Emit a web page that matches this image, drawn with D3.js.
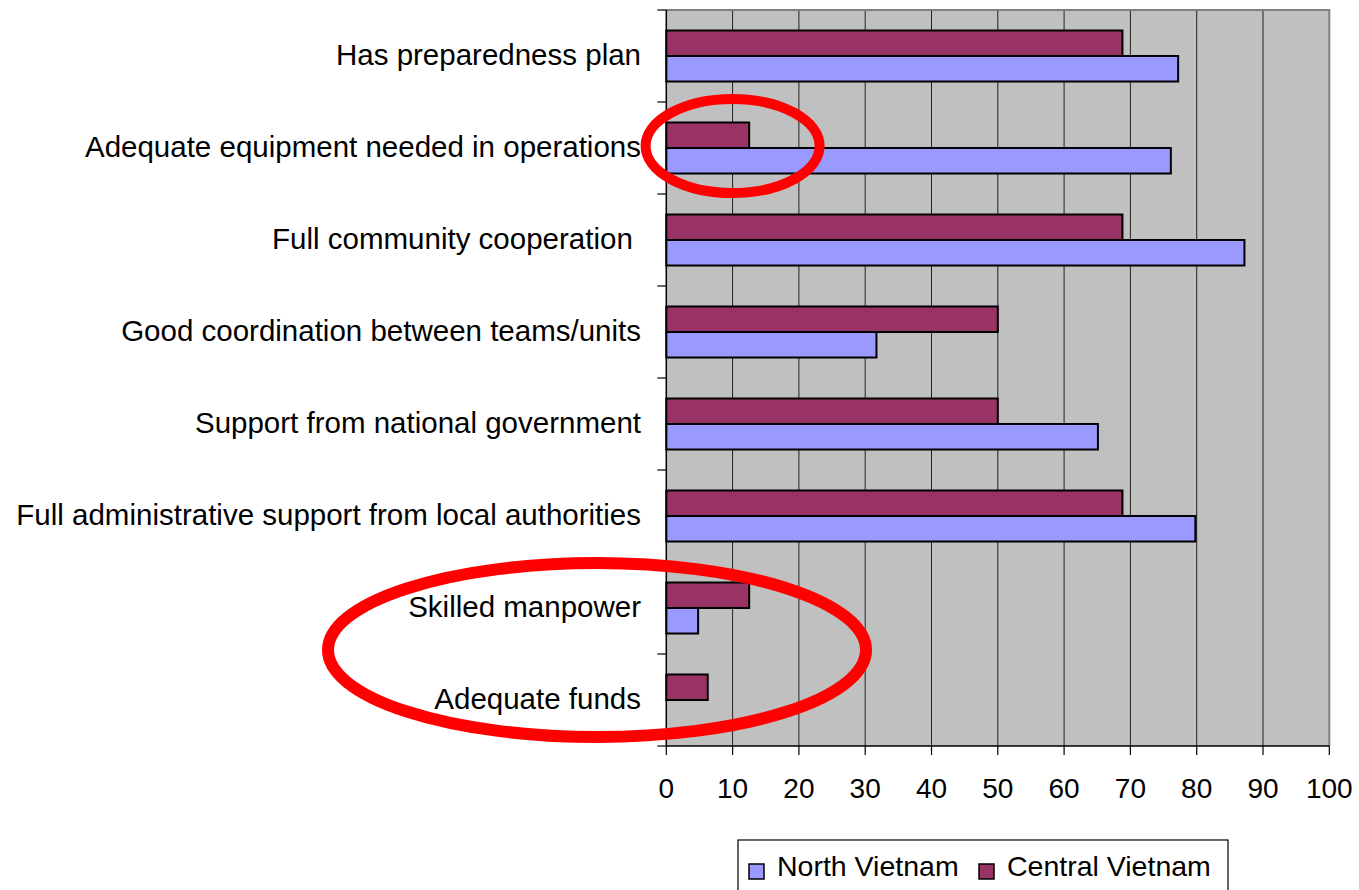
<!DOCTYPE html>
<html><head><meta charset="utf-8">
<script src="https://cdn.jsdelivr.net/npm/d3@7"></script>
<style>body{margin:0;background:#fff;} text{font-family:"Liberation Sans",Arial,sans-serif;}</style>
</head><body>
<svg id="c" width="1359" height="890"></svg>
<script>
const categories = ["Has preparedness plan","Adequate equipment needed in operations","Full community cooperation ","Good coordination between teams/units","Support from national government","Full administrative support from local authorities","Skilled manpower","Adequate funds"];
const northVietnam = [77.2, 76.1, 87.2, 31.7, 65.1, 79.8, 4.8, 0];
const centralVietnam = [68.8, 12.5, 68.8, 50, 50, 68.8, 12.5, 6.25];
const seriesNames = ["North Vietnam","Central Vietnam"];
const xTicks = [0,10,20,30,40,50,60,70,80,90,100];

const colors = {"North Vietnam":"#9999FF","Central Vietnam":"#993366"};
const svg = d3.select("#c");
const L=666.3, R=1329.3, T=10, B=746;
const x = d3.scaleLinear().domain([0,100]).range([L,R]);
const y = d3.scaleBand().domain(categories).range([T,B]);
const bh = 25.5;

svg.append("rect").attr("x",L).attr("y",T).attr("width",R-L).attr("height",B-T).attr("fill","#C0C0C0");
svg.selectAll(".grid").data(xTicks.slice(1,-1)).enter().append("line")
  .attr("x1",d=>x(d)).attr("x2",d=>x(d)).attr("y1",T).attr("y2",B).attr("stroke","#222").attr("stroke-width",1);
svg.append("path").attr("d",`M${L},${T}H${R}V${B}`).attr("fill","none").attr("stroke","#808080").attr("stroke-width",2);

const rows = categories.map((c,i)=>({c, n:northVietnam[i], m:centralVietnam[i]}));
const g = svg.append("g");
rows.forEach(r=>{
  const cy = y(r.c) + y.bandwidth()/2;
  g.append("rect").attr("x",x(0)).attr("y",cy-bh).attr("width",x(r.m)-x(0)).attr("height",bh)
   .attr("fill",colors["Central Vietnam"]).attr("stroke","#000").attr("stroke-width",2);
  if (r.n>0) g.append("rect").attr("x",x(0)).attr("y",cy).attr("width",x(r.n)-x(0)).attr("height",bh)
   .attr("fill",colors["North Vietnam"]).attr("stroke","#000").attr("stroke-width",2);
});

svg.append("line").attr("x1",L).attr("x2",L).attr("y1",T).attr("y2",B).attr("stroke","#000").attr("stroke-width",1.5);
svg.append("line").attr("x1",L).attr("x2",R).attr("y1",B).attr("y2",B).attr("stroke","#000").attr("stroke-width",1.5);
const bounds = categories.map(c=>y(c)).concat([B]);
svg.selectAll(".yt").data(bounds).enter().append("line").attr("x1",L-9).attr("x2",L).attr("y1",d=>d).attr("y2",d=>d).attr("stroke","#000").attr("stroke-width",1.2);
svg.selectAll(".xt").data(xTicks).enter().append("line").attr("x1",d=>x(d)).attr("x2",d=>x(d)).attr("y1",B).attr("y2",B+9).attr("stroke","#000").attr("stroke-width",1.2);
svg.selectAll(".xl").data(xTicks).enter().append("text").attr("x",d=>x(d)).attr("y",798).attr("text-anchor","middle")
  .attr("font-size",28).text(d=>d);
svg.selectAll(".yl").data(categories).enter().append("text").attr("x",641).attr("y",d=>y(d)+y.bandwidth()/2+8.5)
  .attr("text-anchor","end").attr("font-size",29.5).style("white-space","pre").text(d=>d);

// legend
svg.append("rect").attr("x",738).attr("y",840).attr("width",490).attr("height",60).attr("fill","#fff").attr("stroke","#000").attr("stroke-width",1.2);
const lx=[749, 979];
seriesNames.forEach((s,i)=>{
  svg.append("rect").attr("x",lx[i]).attr("y",864).attr("width",15).attr("height",15).attr("fill",colors[s]).attr("stroke","#000").attr("stroke-width",1.5);
  svg.append("text").attr("x",lx[i]+28).attr("y",875.5).attr("font-size",28.5).text(s);
});
// annotation ellipses
svg.append("ellipse").attr("cx",x(10)).attr("cy",y(categories[1])+y.bandwidth()/2-2).attr("rx",87).attr("ry",47)
  .attr("fill","none").attr("stroke","#FF0000").attr("stroke-width",10);
svg.append("ellipse").attr("cx",597).attr("cy",y(categories[7])-4).attr("rx",269).attr("ry",87)
  .attr("fill","none").attr("stroke","#FF0000").attr("stroke-width",12);
</script>
</body></html>
